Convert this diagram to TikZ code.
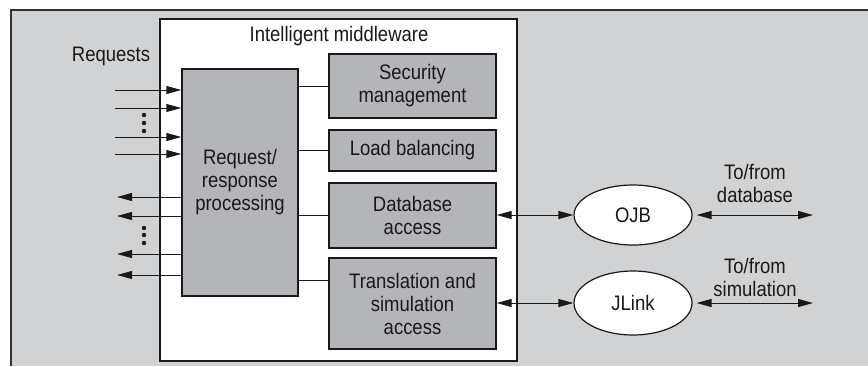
\documentclass[tikz,border=0pt]{standalone}
\usepackage{fontspec}
\setmainfont{Liberation Sans}[FakeStretch=0.88]
\usetikzlibrary{arrows.meta,shapes.geometric}

\definecolor{panelgray}{RGB}{209,210,212}
\definecolor{boxgray}{RGB}{180,181,184}
\definecolor{framedark}{RGB}{50,50,52}

\tikzset{
  txt/.style={font=\fontsize{10.5}{11.5}\selectfont, align=center, text=black!90},
  mwbox/.style={draw=black!90, line width=0.7pt, fill=white, inner sep=0pt},
  unit/.style={txt, draw=black!90, line width=0.7pt, fill=boxgray, inner sep=0pt,
    minimum width=83.5pt},
  oval/.style={txt, ellipse, draw=black!90, line width=0.6pt, fill=white, inner sep=0pt},
  link/.style={draw=black!90, line width=0.5pt},
  flow/.style={link, -{Triangle[length=7.5pt,width=4pt]}},
  both/.style={link, {Triangle[length=7.5pt,width=4pt]}-{Triangle[length=7.5pt,width=4pt]}},
  dot/.style={fill=black!90}
}

\begin{document}
\begin{tikzpicture}[x=0.5pt,y=-0.5pt]
\useasboundingbox (0,0) rectangle (868,366);

% background panel with its top and left rule
\fill[panelgray] (11,10) rectangle (868,366);
\draw[framedark, line width=1pt] (11,366) -- (11,10) -- (868,10);

% middleware container
\node[mwbox, minimum width=178.5pt, minimum height=171pt] (mw) at (338.5,190) {};
\node[txt] (mwtitle) at (339,36) {Intelligent middleware};

% request/response processing block
\node[unit, minimum width=58pt, minimum height=113.5pt] (req) at (240,182.5)
  {Request/\\response\\processing};

% service blocks
\node[unit, minimum height=32pt]   (sec)   at (412.5,86)    {Security\\management};
\node[unit, minimum height=20.5pt] (load)  at (412.5,150.5) {Load balancing};
\node[unit, minimum height=32.5pt] (db)    at (412.5,215.5) {Database\\access};
\node[unit, minimum height=45.5pt] (trans) at (412.5,303.5) {Translation and\\simulation\\access};

% connections from the processing block to the services
\draw[link] (sec.west) -- (sec.west -| req.east);
\draw[link] (load.west) -- (load.west -| req.east);
\draw[link] (db.west) -- (db.west -| req.east);
\coordinate (transport) at (329,280);
\draw[link] (transport) -- (transport -| req.east);

% external adapters
\node[oval, minimum width=59pt, minimum height=30pt] (ojb)   at (633,215) {OJB};
\node[oval, minimum width=59pt, minimum height=32pt] (jlink) at (633,303) {JLink};

\draw[both] (db.east |- ojb.west) -- (ojb.west);
\draw[both] (trans.east |- jlink.west) -- (jlink.west);

\coordinate (dbend)  at (813,215);
\coordinate (simend) at (813,303);
\draw[both, shorten <=2pt] (ojb.east) -- (dbend);
\draw[both, shorten <=2pt] (jlink.east) -- (simend);

\node[txt] (dblabel)  at (755,183) {To/from\\database};
\node[txt] (simlabel) at (755,277) {To/from\\simulation};

% incoming requests
\node[txt] (reqlabel) at (111,56) {Requests};
\foreach \n/\y in {1/90,2/108,3/137,4/154} {
  \coordinate (in\n) at (115,\y);
  \draw[flow] (in\n) -- (in\n -| req.west);
}
\foreach \y in {115,123,131} \fill[dot] (144,\y) circle (1.1pt);

% outgoing responses
\foreach \n/\y in {1/197,2/216,3/254,4/275} {
  \coordinate (out\n) at (117,\y);
  \draw[flow] (out\n -| req.west) -- (out\n);
}
\foreach \y in {228,235,243} \fill[dot] (144,\y) circle (1.1pt);
\end{tikzpicture}
\end{document}
